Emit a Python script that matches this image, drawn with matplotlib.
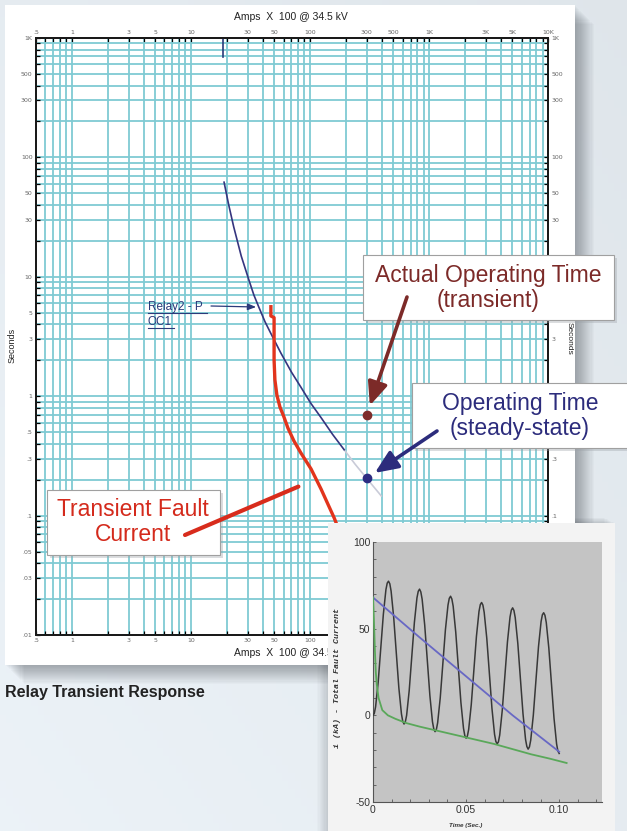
import numpy as np
import matplotlib
matplotlib.use('Agg')
import matplotlib.pyplot as plt
from matplotlib.patches import Rectangle
from matplotlib.ticker import FixedLocator, FixedFormatter, NullFormatter, LogLocator, MultipleLocator

# ---------------- data ----------------
x_tick_vals = [0.5, 1, 3, 5, 10, 30, 50, 100, 300, 500, 1000, 3000, 5000, 10000]
x_tick_labels = ['.5', '1', '3', '5', '10', '30', '50', '100', '300', '500', '1K', '3K', '5K', '10K']
y_tick_vals = [1000, 500, 300, 100, 50, 30, 10, 5, 3, 1, 0.5, 0.3, 0.1, 0.05, 0.03, 0.01]
y_tick_labels = ['1K', '500', '300', '100', '50', '30', '10', '5', '3', '1', '.5', '.3', '.1', '.05', '.03', '.01']
# right-hand labels that stay visible (the others sit behind the call-out boxes)
y_right_vals = [1000, 500, 300, 100, 50, 30, 3, 0.3, 0.1, 0.05, 0.03, 0.01]
y_right_labels = ['1K', '500', '300', '100', '50', '30', '3', '.3', '.1', '.05', '.03', '.01']

# relay curve (steady state), amps x100 vs seconds
relay_amps = [19.0, 20.8, 22.9, 26.5, 30.7, 33.8, 37.2, 42, 47, 57, 70, 84, 102, 124, 155, 194]
relay_sec = [62, 39.9, 26.2, 14.9, 9.42, 7.05, 5.58, 4.19, 3.35, 2.30, 1.59, 1.19, 0.869, 0.662, 0.479, 0.356]
relay_ext_amps = [194, 240, 300, 398]
relay_ext_sec = [0.356, 0.269, 0.205, 0.146]
pickup_amps = 18.5
pickup_sec = [1000, 692]

# transient fault current trajectory
fault_amps = [47.0, 47.0, 50.0, 50.0, 50.8, 52.8, 56.0, 60.5, 65.3, 73.4, 84.1, 102.2, 124, 160, 172.6]
fault_sec = [5.8, 4.7, 4.55, 2.01, 1.37, 1.02, 0.812, 0.670, 0.542, 0.422, 0.334, 0.246, 0.167, 0.0955, 0.0787]

op_amps = 300
op_time_transient = 0.70
op_time_steady = 0.205
relay_label_point = (37.2, 5.58)
fault_label_point = (80, 0.175)

# inset: total fault current waveform (time in ms, current in kA)
sig_t_ms = [0, 0.69, 1.39, 2.78, 4.17, 5.56, 6.94, 7.64, 8.33, 9.03, 9.72, 11.11, 12.50, 13.89, 15.28, 15.97,
            16.67, 17.36, 18.06, 19.44, 20.83, 22.22, 23.61, 24.31, 25.00, 25.69, 26.39, 27.78, 29.17, 30.56,
            31.94, 32.64, 33.33, 34.03, 34.72, 36.11, 37.50, 38.89, 40.28, 40.97, 41.67, 42.36, 43.06, 44.44,
            45.83, 47.22, 48.61, 49.31, 50.00, 50.69, 51.39, 52.78, 54.17, 55.56, 56.94, 57.64, 58.33, 59.03,
            59.72, 61.11, 62.50, 63.89, 65.28, 65.97, 66.67, 67.36, 68.06, 69.44, 70.83, 72.22, 73.61, 74.31,
            75.00, 75.69, 76.39, 77.78, 79.17, 80.56, 81.94, 82.64, 83.33, 84.03, 84.72, 86.11, 87.50, 88.89,
            90.28, 90.97, 91.67, 92.36, 93.06, 94.44, 95.83, 97.22, 98.61, 99.31, 100.00]
sig_ka = [0, 1.1, 4.9, 19.1, 38.7, 58.3, 72.5, 76.3, 77.4, 75.9, 71.7, 56.6, 36.2, 15.8, 0.8, -3.4,
          -5.0, -3.8, 0.0, 14.2, 33.9, 53.5, 67.8, 71.6, 72.8, 71.2, 67.0, 52.0, 31.7, 11.3,
          -3.7, -7.8, -9.4, -8.2, -4.3, 10.0, 29.6, 49.3, 63.6, 67.5, 68.7, 67.1, 63.0, 48.0,
          27.7, 7.4, -7.5, -11.7, -13.2, -12.0, -8.1, 6.2, 25.9, 45.6, 60.0, 63.9, 65.1, 63.6,
          59.4, 44.5, 24.3, 4.0, -10.9, -15.0, -16.5, -15.3, -11.4, 3.0, 22.7, 42.4, 56.8, 60.7,
          62.0, 60.5, 56.4, 41.5, 21.2, 1.0, -13.9, -18.0, -19.5, -18.2, -14.3, 0.1, 19.9, 39.6,
          54.1, 58.0, 59.2, 57.7, 53.6, 38.8, 18.6, -1.6, -16.5, -20.6, -22.0]
blue_t_ms = [0, 25, 50, 75, 100]
blue_ka = [68, 45, 22.5, 0, -21]
green_t_ms = [0, 0.5, 1.0, 1.5, 2.0, 3.0, 5.0, 8.0, 12, 18, 25, 35, 45, 55, 65, 75, 85, 95, 104]
green_ka = [68, 55, 38, 25, 18, 10, 3, 0, -2, -4.5, -6.5, -9, -11.5, -14, -16.5, -19.5, -22.5, -25, -27.5]

# ---------------- figure ----------------
W, H = 627, 831
fig = plt.figure(figsize=(W / 100, H / 100), dpi=100)


def rect(l, t, r, b):
    return [l / W, 1 - b / H, (r - l) / W, (b - t) / H]


SANS = ['Liberation Sans', 'DejaVu Sans']
NARROW = ['Liberation Sans Narrow', 'Liberation Sans', 'DejaVu Sans']

# background
bg = fig.add_axes([0, 0, 1, 1], zorder=0)
bg.set_xlim(0, W)
bg.set_ylim(H, 0)
bg.axis('off')
gy, gx = np.mgrid[0:1:100j, 0:1:100j]
base = np.array([0.90, 0.925, 0.945])
img = base[None, None, :] - 0.025 * gx[..., None] + 0.025 * gy[..., None]
bg.imshow(np.clip(img, 0, 1), extent=[0, W, H, 0], aspect='auto', zorder=0)
for i in range(1, 18):
    bg.add_patch(Rectangle((5 + i * 1.1, 5 + i * 1.1), 570, 660, fc='#2a3038',
                           ec='none', alpha=0.022, zorder=1))
for i in range(1, 10):
    bg.add_patch(Rectangle((328 - i * 1.2, 523 - i * 0.6), 287, 320, fc='#2a3038',
                           ec='none', alpha=0.02, zorder=1))
bg.add_patch(Rectangle((5, 5), 570, 660, fc='white', ec='none', zorder=2))
bg.text(5, 692, 'Relay Transient Response', fontsize=11.5, weight='bold',
        color='#222222', va='center', ha='left', family=SANS, zorder=3)
bg.text(291, 17, 'Amps  X  100 @ 34.5 kV', fontsize=7.5, color='#222222',
        ha='center', va='center', family=NARROW, zorder=3)
bg.text(291, 653, 'Amps  X  100 @ 34.5 kV', fontsize=7.5, color='#222222',
        ha='center', va='center', family=NARROW, zorder=3)
bg.text(12, 345, 'Seconds', fontsize=6.5, color='#222222', rotation=90,
        ha='center', va='center', family=NARROW, zorder=3)
bg.text(569, 338, 'Seconds', fontsize=6, color='#222222', rotation=270,
        ha='center', va='center', family=NARROW, zorder=3)

# main TCC axes
ax = fig.add_axes(rect(36, 38, 548, 635), zorder=1)
ax.patch.set_alpha(0)
ax.set_xscale('log')
ax.set_yscale('log')
ax.set_xlim(0.5, 10000)
ax.set_ylim(0.01, 1000)
ax.xaxis.set_major_locator(FixedLocator(x_tick_vals))
ax.xaxis.set_major_formatter(FixedFormatter(x_tick_labels))
ax.yaxis.set_major_locator(FixedLocator(y_tick_vals))
ax.yaxis.set_major_formatter(FixedFormatter(y_tick_labels))
ax.xaxis.set_minor_locator(LogLocator(base=10, subs=np.arange(1, 10), numticks=50))
ax.yaxis.set_minor_locator(LogLocator(base=10, subs=np.arange(1, 10), numticks=50))
ax.xaxis.set_minor_formatter(NullFormatter())
ax.yaxis.set_minor_formatter(NullFormatter())
ax.grid(True, which='both', color='#7fcad3', lw=1.3, zorder=0)
ax.set_axisbelow(True)
ax.tick_params(which='both', direction='in', length=3, width=0.9, color='black',
               top=True, right=False, labeltop=True, labelright=False,
               labelsize=4.5, labelcolor='#666666', pad=2.5)
for s in ax.spines.values():
    s.set_color('#1a1a1a')
    s.set_linewidth(1.4)

# right-hand scale
axr = ax.twinx()
axr.set_yscale('log')
axr.set_ylim(0.01, 1000)
axr.yaxis.set_major_locator(FixedLocator(y_right_vals))
axr.yaxis.set_major_formatter(FixedFormatter(y_right_labels))
axr.yaxis.set_minor_locator(LogLocator(base=10, subs=np.arange(1, 10), numticks=50))
axr.yaxis.set_minor_formatter(NullFormatter())
axr.tick_params(which='both', direction='in', length=3, width=0.9, color='black',
                labelsize=4.5, labelcolor='#666666', pad=2.5)
for s in axr.spines.values():
    s.set_color('#1a1a1a')
    s.set_linewidth(1.4)

ax.plot([pickup_amps, pickup_amps], pickup_sec, color='#2a3a7a', lw=1.2, zorder=3)
ax.plot(relay_ext_amps, relay_ext_sec, color='#c9cbd8', lw=1.2, zorder=3)
ax.plot(relay_amps, relay_sec, color='#35357f', lw=1.2, zorder=4)
ax.plot(fault_amps, fault_sec, color='#e2341c', lw=2.4, zorder=5,
        solid_joinstyle='round', solid_capstyle='butt')
ax.plot([op_amps], [op_time_transient], 'o', color='#7e2c2a', ms=6, zorder=6)
ax.plot([op_amps], [op_time_steady], 'o', color='#2c2c82', ms=6, zorder=6)

# overlay for callouts
ov = fig.add_axes([0, 0, 1, 1], zorder=2)
ov.set_xlim(0, W)
ov.set_ylim(H, 0)
ov.axis('off')
ov.patch.set_alpha(0)


def box(l, t, r, b):
    ov.add_patch(Rectangle((l + 3, t + 3), r - l, b - t, fc='#9aa0a6', ec='none', alpha=0.35, zorder=1))
    ov.add_patch(Rectangle((l, t), r - l, b - t, fc='white', ec='#a0a0a0', lw=0.8, zorder=2))


box(47, 490, 220, 555)
ov.text(133, 522, 'Transient Fault\nCurrent', fontsize=16.5, color='#d42a1c',
        ha='center', va='center', family=SANS, linespacing=1.15, zorder=3)
ov.annotate('', xy=fault_label_point, xycoords=ax.transData, xytext=(185, 535),
            textcoords='data',
            arrowprops=dict(arrowstyle='-', color='#d82c1c', lw=3, shrinkA=0, shrinkB=0),
            zorder=4)

box(363, 255, 614, 320)
ov.text(488, 288, 'Actual Operating Time\n(transient)', fontsize=16.5, color='#7c2a28',
        ha='center', va='center', family=SANS, linespacing=1.15, zorder=3)
ov.annotate('', xy=(op_amps, op_time_transient), xycoords=ax.transData, xytext=(407, 297),
            textcoords='data',
            arrowprops=dict(arrowstyle='-|>,head_length=1.4,head_width=0.6', color='#7c2a28',
                            lw=2.6, shrinkA=0, shrinkB=7),
            zorder=4)

box(412, 383, 640, 448)
ov.text(520, 416, 'Operating Time\n(steady-state)', fontsize=16.5, color='#2c2c7c',
        ha='center', va='center', family=SANS, linespacing=1.15, zorder=3)
ov.annotate('', xy=(op_amps, op_time_steady), xycoords=ax.transData, xytext=(437, 431),
            textcoords='data',
            arrowprops=dict(arrowstyle='-|>,head_length=1.4,head_width=0.6', color='#2c2c7c',
                            lw=2.6, shrinkA=0, shrinkB=7),
            zorder=4)

# relay curve label
ov.text(148, 310, 'Relay2 - P', fontsize=8.5, color='#2b3a7a', ha='left', va='baseline',
        family=SANS, zorder=3)
ov.text(148, 325, 'OC1', fontsize=8.5, color='#2b3a7a', ha='left', va='baseline',
        family=SANS, zorder=3)
ov.plot([148, 207], [312.5, 312.5], color='#2b3a7a', lw=0.8, zorder=3)
ov.plot([148, 174], [327.5, 327.5], color='#2b3a7a', lw=0.8, zorder=3)
ov.annotate('', xy=relay_label_point, xycoords=ax.transData, xytext=(211, 306),
            textcoords='data',
            arrowprops=dict(arrowstyle='-|>,head_length=0.5,head_width=0.2', color='#2b3a7a',
                            lw=0.9, shrinkA=0, shrinkB=2),
            zorder=4)

# inset panel
pan = fig.add_axes(rect(328, 523, 615, 831), zorder=3)
pan.set_xticks([])
pan.set_yticks([])
pan.set_facecolor('#f3f3f3')
for s in pan.spines.values():
    s.set_visible(False)

ins = fig.add_axes(rect(373, 542, 602, 802), zorder=4)
ins.set_facecolor('#c4c4c4')
t_sig = np.array(sig_t_ms) / 1000.0
ins.plot(t_sig, sig_ka, color='#383838', lw=1.1, zorder=3)
ins.plot(np.array(blue_t_ms) / 1000.0, blue_ka, color='#6868c4', lw=1.3, zorder=4)
ins.plot(np.array(green_t_ms) / 1000.0, green_ka, color='#5aa85a', lw=1.3, zorder=4)
ins.set_xlim(0, 0.123)
ins.set_ylim(-50, 100)
ins.set_xticks([0, 0.05, 0.10])
ins.set_xticklabels(['0', '0.05', '0.10'])
ins.set_yticks([-50, 0, 50, 100])
ins.set_yticklabels(['-50', '0', '50', '100'])
ins.xaxis.set_minor_locator(MultipleLocator(0.01))
ins.yaxis.set_minor_locator(MultipleLocator(10))
ins.tick_params(which='both', direction='in', length=2.5, width=0.6, color='#555555',
                labelsize=7.5, labelcolor='#333333', pad=2)
for lab in ins.get_xticklabels() + ins.get_yticklabels():
    lab.set_family(NARROW)
for k in ['top', 'right']:
    ins.spines[k].set_visible(False)
for k in ['left', 'bottom']:
    ins.spines[k].set_color('#555555')
    ins.spines[k].set_linewidth(0.8)
ins.text(-0.157, 0.477, 'i (kA) - Total Fault Current', transform=ins.transAxes,
         rotation=90, ha='center', va='center', fontsize=6, color='#333333',
         family=['Liberation Mono', 'DejaVu Sans Mono'], weight='bold', style='italic')
ins.text(0.406, -0.092, 'Time (Sec.)', transform=ins.transAxes, ha='center', va='center',
         fontsize=4.5, color='#333333', weight='bold', style='italic', family=SANS)

fig.savefig('out.png', dpi=100)
